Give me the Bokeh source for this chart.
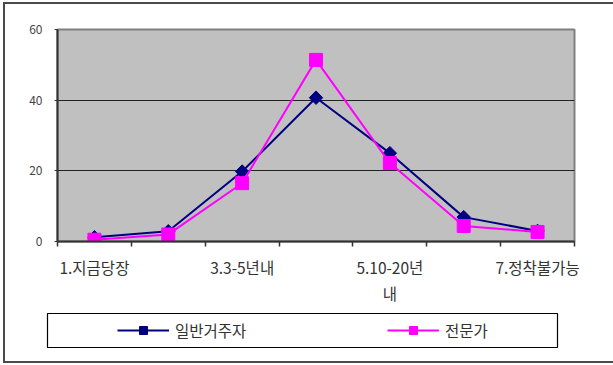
import math
from bokeh.plotting import figure
from bokeh.models import Range1d, FixedTicker, Legend, LegendItem
from bokeh.embed import file_html
from bokeh.resources import INLINE

# data
category_index = [1, 2, 3, 4, 5, 6, 7]
shown_labels = {1: "1.지금당장", 3: "3.3-5년내", 5: "5.10-20년\n내", 7: "7.정착불가능"}
residents = [1.2, 2.9, 19.8, 40.7, 25.0, 6.9, 3.0]
experts = [0.5, 2.0, 16.5, 51.4, 22.2, 4.4, 2.7]
series_names = ["일반거주자", "전문가"]
y_ticks = [0, 20, 40, 60]

FONT = "Noto Sans CJK KR"
NAVY = "#000080"
MAGENTA = "#FF00FF"
EDGE = "2px solid #4a4a4a"

p = figure(width=610, height=302, output_backend="svg", toolbar_location=None,
           x_range=Range1d(0.5, 7.5), y_range=Range1d(0, 60),
           min_border_left=52, min_border_right=41, min_border_top=25,
           min_border_bottom=64)
p.styles = {"margin-left": "3px", "margin-top": "2px", "border-top": EDGE,
            "border-left": EDGE}
p.background_fill_color = "#C0C0C0"
p.border_fill_color = "white"
p.outline_line_color = "#808080"
p.outline_line_width = 2

p.xgrid.visible = False
p.ygrid.grid_line_color = "#222222"
p.ygrid.grid_line_width = 1.2
p.ygrid.ticker = FixedTicker(ticks=[20, 40])

xa = p.xaxis[0]
xa.ticker = FixedTicker(ticks=[1, 3, 5, 7], minor_ticks=[0.5, 1.5, 2.5, 3.5, 4.5, 5.5, 6.5, 7.5])
xa.major_label_overrides = shown_labels
xa.major_tick_line_color = None
xa.major_tick_out = 0
xa.minor_tick_in = 0
xa.minor_tick_out = 5
xa.minor_tick_line_color = "#333333"
xa.minor_tick_line_width = 1.5
xa.axis_line_color = "#333333"
xa.axis_line_width = 2
xa.major_label_standoff = 9
xa.major_label_text_font = FONT
xa.major_label_text_font_size = "15.5px"
xa.major_label_text_color = "#333333"

ya = p.yaxis[0]
ya.ticker = FixedTicker(ticks=y_ticks)
ya.minor_tick_line_color = None
ya.major_tick_in = 0
ya.major_tick_out = 3
ya.major_tick_line_color = "#333333"
ya.axis_line_color = "#333333"
ya.axis_line_width = 2
ya.major_label_standoff = 12
ya.major_label_text_font = FONT
ya.major_label_text_font_size = "12px"
ya.major_label_text_color = "#444444"

p.line(category_index, residents, line_color=NAVY, line_width=2)
p.scatter(category_index, residents, marker="square", angle=math.pi / 4, size=9.5,
          fill_color=NAVY, line_color=NAVY)
p.line(category_index, experts, line_color=MAGENTA, line_width=2)
p.scatter(category_index, experts, marker="square", size=13,
          fill_color=MAGENTA, line_color=MAGENTA)

# legend panel
q = figure(width=610, height=59, output_backend="svg", toolbar_location=None,
           x_range=Range1d(0, 1), y_range=Range1d(0, 1),
           min_border_left=42, min_border_right=58, min_border_top=9,
           min_border_bottom=16)
q.styles = {"margin-left": "3px", "border-bottom": EDGE, "border-left": EDGE}
q.axis.visible = False
q.grid.visible = False
q.outline_line_color = "black"
q.outline_line_width = 1.2
q.background_fill_color = "white"
nan = float("nan")
g1 = [q.line([nan], [nan], line_color=NAVY, line_width=2),
      q.scatter([nan], [nan], marker="square", angle=math.pi / 4, size=9.5,
                fill_color=NAVY, line_color=NAVY)]
g2 = [q.line([nan], [nan], line_color=MAGENTA, line_width=2),
      q.scatter([nan], [nan], marker="square", size=13, fill_color=MAGENTA,
                line_color=MAGENTA)]

legend = Legend(items=[LegendItem(label=series_names[0], renderers=g1),
                       LegendItem(label=series_names[1], renderers=g2)],
                orientation="horizontal", location=(70, 6),
                border_line_color=None, background_fill_alpha=0.0,
                padding=0, spacing=132, glyph_width=52, glyph_height=20,
                label_width=80, label_height=20,
                label_standoff=6, label_text_font=FONT,
                label_text_font_size="15.5px", label_text_color="#333333")
q.add_layout(legend, "center")

open("out.html", "w").write(file_html([p, q], INLINE))
